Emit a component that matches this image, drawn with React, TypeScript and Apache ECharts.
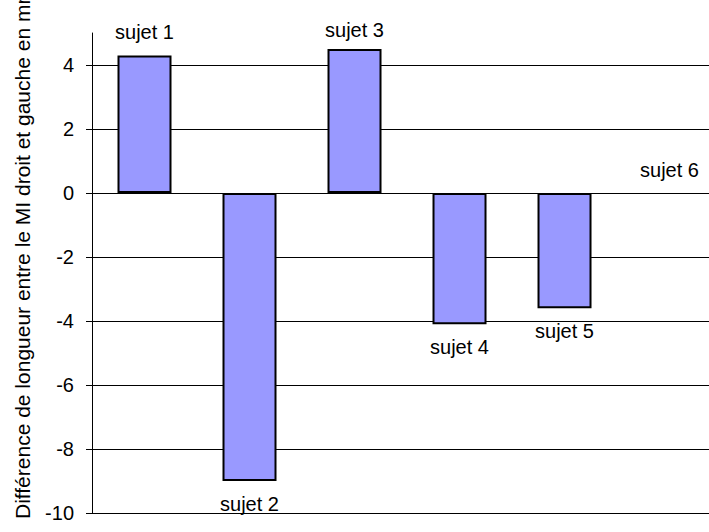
import React, { useEffect, useRef } from "react";
import * as echarts from "echarts";

const categories = ["sujet 1", "sujet 2", "sujet 3", "sujet 4", "sujet 5", "sujet 6"];
const values = [4.3, -9.0, 4.5, -4.1, -3.6, 0];
const yTicks = [-10, -8, -6, -4, -2, 0, 2, 4];
const yTitle = "Différence de longueur entre le MI droit et gauche en mm";

const FONT = "'Liberation Sans', Arial, sans-serif";

// Subjects sit at x = 1..6, each in a band one unit wide; the plot shows
// from the left edge of the first band to a little before the end of the last.
const X_MIN = 0.5;
const X_MAX = 6.376;

export default function App() {
  const ref = useRef<HTMLDivElement>(null);

  useEffect(() => {
    if (!ref.current) return;
    const chart = echarts.init(ref.current, undefined, { renderer: "svg" });

    const data = values.map((v, i) => ({
      value: [i + 1, v],
      name: categories[i],
      label: {
        position: v < 0 ? "bottom" : "top",
        distance: i === 2 ? 9 : 13,
      },
      // a zero-height bar shows no outline
      itemStyle: v === 0 ? { borderWidth: 0 } : undefined,
    }));

    chart.setOption({
      animation: false,
      backgroundColor: "#ffffff",
      grid: { left: 92, top: 33, bottom: 19, right: 0, containLabel: false },
      xAxis: {
        type: "value",
        min: X_MIN,
        max: X_MAX,
        axisLine: { show: false },
        axisTick: { show: false },
        axisLabel: { show: false },
        splitLine: { show: false },
      },
      yAxis: {
        type: "value",
        min: -10,
        max: 5,
        interval: 2,
        axisLine: { show: true, onZero: false, lineStyle: { color: "#000", width: 1 } },
        axisTick: { show: true, length: 6, customValues: yTicks, lineStyle: { color: "#000" } },
        axisLabel: {
          customValues: yTicks,
          margin: 18,
          color: "#000",
          fontFamily: FONT,
          fontSize: 20,
        },
        splitLine: {
          show: true,
          lineStyle: { color: "#000", width: 1 },
        },
      },
      series: [
        {
          type: "bar",
          data,
          barWidth: 54,
          itemStyle: { color: "#9999FF", borderColor: "#000", borderWidth: 2 },
          label: {
            show: true,
            formatter: (p: any) => p.name,
            color: "#000",
            fontFamily: FONT,
            fontSize: 20,
          },
        },
      ],
      graphic: [
        {
          type: "text",
          x: 22,
          y: 519,
          rotation: Math.PI / 2,
          style: {
            text: yTitle,
            fill: "#000",
            font: `21px ${FONT}`,
            textAlign: "left",
            textVerticalAlign: "middle",
            align: "left",
            verticalAlign: "middle",
          },
        },
      ],
    });

    return () => chart.dispose();
  }, []);

  return (
    <div
      ref={ref}
      style={{ position: "fixed", left: 0, top: 0, width: 709, height: 532 }}
    />
  );
}
